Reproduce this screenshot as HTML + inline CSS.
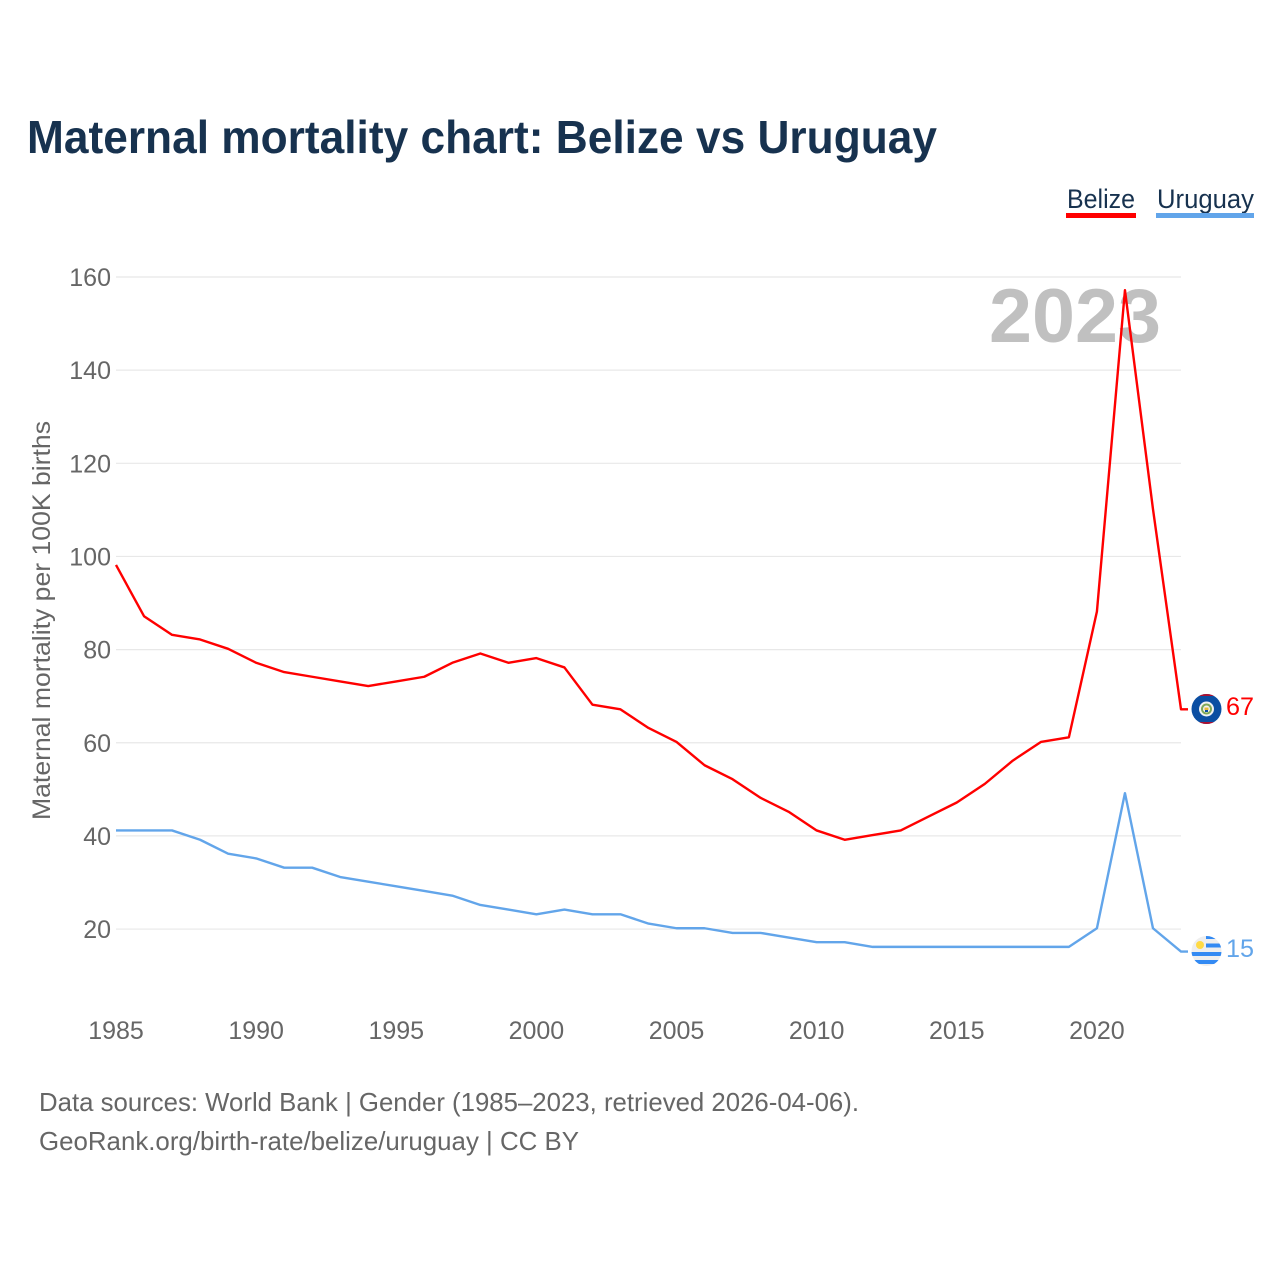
<!DOCTYPE html>
<html lang="en">
<head>
<meta charset="utf-8">
<title>Maternal mortality chart: Belize vs Uruguay</title>
<style>
html,body{margin:0;padding:0;background:#fff;}
svg{display:block;}
text{font-family:"Liberation Sans",sans-serif;}
</style>
</head>
<body>
<svg id="chart" xmlns="http://www.w3.org/2000/svg" width="1280" height="1280" viewBox="0 0 1280 1280">
  <defs>
    <clipPath id="belize-clip"><circle cx="1206.5" cy="709" r="15"/></clipPath>
    <clipPath id="uruguay-clip"><circle cx="1206.5" cy="951" r="15"/></clipPath>
  </defs>
  <rect x="0" y="0" width="1280" height="1280" fill="#ffffff"/>
  <text x="27" y="153" font-size="46" font-weight="700" fill="#17324f" textLength="910" lengthAdjust="spacingAndGlyphs">Maternal mortality chart: Belize vs Uruguay</text>

  <g>
    <text x="1067" y="208" font-size="27" fill="#17324f" textLength="68" lengthAdjust="spacingAndGlyphs">Belize</text>
    <rect x="1066" y="213" width="70" height="5" fill="#ff0000"/>
  </g>
  <g>
    <text x="1157" y="208" font-size="27" fill="#17324f" textLength="97" lengthAdjust="spacingAndGlyphs">Uruguay</text>
    <rect x="1156" y="213" width="98" height="5" fill="#62a5ea"/>
  </g>

  <g id="grid"></g>
  <text x="989" y="342" font-size="76" font-weight="700" fill="#c0c0c0" textLength="172" lengthAdjust="spacingAndGlyphs">2023</text>
  <g id="y-axis"></g>
  <g id="x-axis"></g>
  <text transform="translate(50,820) rotate(-90)" x="0" y="0" font-size="25" fill="#666666" textLength="399" lengthAdjust="spacingAndGlyphs">Maternal mortality per 100K births</text>
  <g id="series"></g>

  <g clip-path="url(#belize-clip)">
    <rect x="1191" y="693" width="31" height="32" fill="#0b4ea2"/>
    <rect x="1191" y="693" width="31" height="3" fill="#ad1030"/>
    <rect x="1191" y="722" width="31" height="3" fill="#ad1030"/>
    <circle cx="1206.5" cy="709" r="7.5" fill="#f2f2f2"/>
    <circle cx="1206.5" cy="709" r="5.5" fill="#7fa858"/>
    <circle cx="1206.5" cy="709" r="3.5" fill="#f2f2f2"/>
    <rect x="1204.5" y="707.5" width="4" height="2.5" fill="#e9b936"/>
    <rect x="1205" y="710" width="3" height="2" fill="#0b4ea2"/>
  </g>
  <g clip-path="url(#uruguay-clip)">
    <rect x="1191" y="935" width="31" height="32" fill="#eeeeee"/>
    <rect x="1206" y="936" width="16" height="3" fill="#338af3"/>
    <rect x="1206" y="943.5" width="16" height="4" fill="#338af3"/>
    <rect x="1191" y="952" width="31" height="4" fill="#338af3"/>
    <rect x="1191" y="960" width="31" height="4" fill="#338af3"/>
    <circle cx="1200" cy="945" r="4" fill="#ffda44"/>
  </g>
  <text x="1226" y="715" font-size="25" fill="#ff0000" textLength="28" lengthAdjust="spacingAndGlyphs">67</text>
  <text x="1226" y="957" font-size="25" fill="#62a5ea" textLength="28" lengthAdjust="spacingAndGlyphs">15</text>

  <text x="39" y="1111" font-size="26" fill="#666666" textLength="820" lengthAdjust="spacingAndGlyphs">Data sources: World Bank | Gender (1985–2023, retrieved 2026-04-06).</text>
  <text x="39" y="1150" font-size="26" fill="#666666" textLength="540" lengthAdjust="spacingAndGlyphs">GeoRank.org/birth-rate/belize/uruguay | CC BY</text>
</svg>
<script>
const years = [1985,1986,1987,1988,1989,1990,1991,1992,1993,1994,1995,1996,1997,1998,1999,2000,2001,2002,2003,2004,2005,2006,2007,2008,2009,2010,2011,2012,2013,2014,2015,2016,2017,2018,2019,2020,2021,2022,2023];
const belize = [98,87,83,82,80,77,75,74,73,72,73,74,77,79,77,78,76,68,67,63,60,55,52,48,45,41,39,40,41,44,47,51,56,60,61,88,157,110,67];
const uruguay = [41,41,41,39,36,35,33,33,31,30,29,28,27,25,24,23,24,23,23,21,20,20,19,19,18,17,17,16,16,16,16,16,16,16,16,20,49,20,15];
const yTicks = [20,40,60,80,100,120,140,160];
const xTicks = [1985,1990,1995,2000,2005,2010,2015,2020];

const NS = 'http://www.w3.org/2000/svg';
function xScale(year){ return 116 + (year - 1985) * (1181 - 116) / 38; }
function yScale(v){ return 1022.2 - v * (1022.2 - 277) / 160; }
function lineY(v){ return yScale(v) - 0.8; }
function make(tag, parent){
  const el = document.createElementNS(NS, tag);
  parent.appendChild(el);
  return el;
}

const grid = document.getElementById('grid');
const yAxis = document.getElementById('y-axis');
yTicks.forEach(function(t){
  const line = make('line', grid);
  
  
  line.setAttribute('x1', 116);
  line.setAttribute('x2', 1181);
  line.setAttribute('y1', yScale(t));
  line.setAttribute('y2', yScale(t));
  line.setAttribute('stroke', '#e8e8e8');
  line.setAttribute('stroke-width', '1.2');
  const label = make('text', yAxis);
  
  
  label.setAttribute('x', 111);
  label.setAttribute('y', yScale(t) + 9);
  label.setAttribute('text-anchor', 'end');
  label.setAttribute('font-size', '25');
  label.setAttribute('fill', '#666666');
  label.textContent = t;
});

const xAxis = document.getElementById('x-axis');
xTicks.forEach(function(t){
  const label = make('text', xAxis);
  
  
  label.setAttribute('x', xScale(t));
  label.setAttribute('y', 1039);
  label.setAttribute('text-anchor', 'middle');
  label.setAttribute('font-size', '25');
  label.setAttribute('fill', '#666666');
  label.textContent = t;
});

const seriesGroup = document.getElementById('series');
function drawSeries(values, color, name){
  const pts = values.map(function(v, i){ return xScale(years[i]).toFixed(2) + ',' + lineY(v).toFixed(2); });
  const last = values[values.length - 1];
  pts.push((xScale(years[years.length - 1]) + 7).toFixed(2) + ',' + lineY(last).toFixed(2));
  const line = make('polyline', seriesGroup);
  
  
  line.setAttribute('points', pts.join(' '));
  line.setAttribute('fill', 'none');
  line.setAttribute('stroke', color);
  line.setAttribute('stroke-width', '2.4');
  line.setAttribute('stroke-linejoin', 'round');
}
drawSeries(belize, '#ff0000', 'line-belize');
drawSeries(uruguay, '#62a5ea', 'line-uruguay');
</script>
</body>
</html>
